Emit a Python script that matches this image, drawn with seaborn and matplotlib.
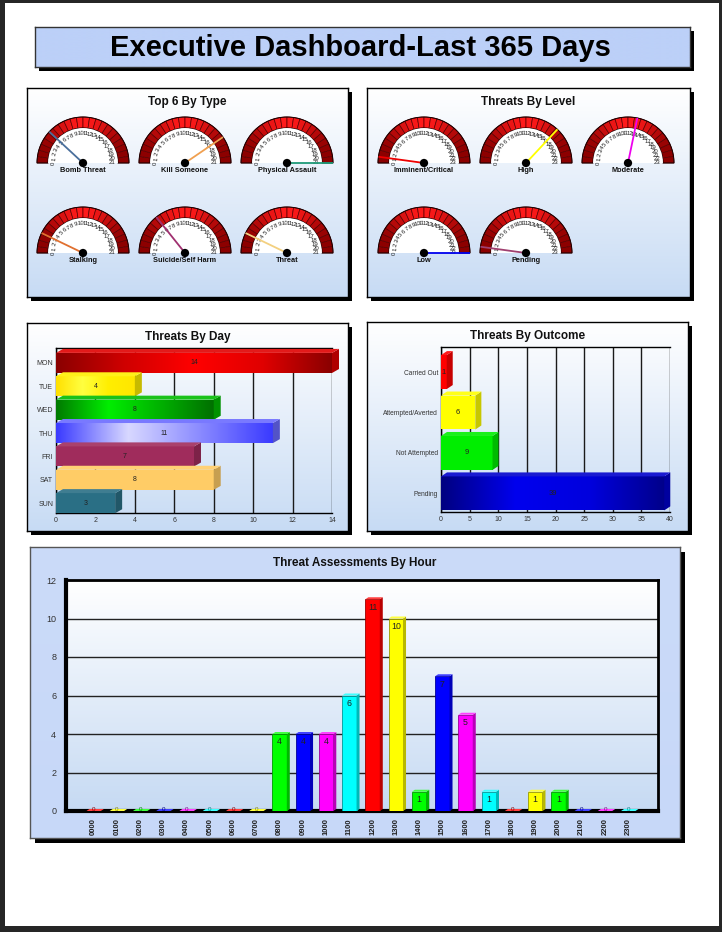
import numpy as np
import pandas as pd
import matplotlib
matplotlib.use("Agg")
import matplotlib.pyplot as plt
import matplotlib.colors as mcolors
from matplotlib.patches import Rectangle, Wedge, Circle, Polygon
import seaborn as sns

# ---------------- data ----------------
type_labels = ["Bomb Threat", "Kill Someone", "Physical Assault",
               "Stalking", "Suicide/Self Harm", "Threat"]
type_values = [5, 17, 21, 3, 6, 3]
type_max = 21

level_labels = ["Imminent/Critical", "High", "Moderate", "Low", "Pending"]
level_values = [1, 17, 13, 23, 1]
level_max = 23

days = ["MON", "TUE", "WED", "THU", "FRI", "SAT", "SUN"]
day_values = [14, 4, 8, 11, 7, 8, 3]

outcomes = ["Carried Out", "Attempted/Averted", "Not Attempted", "Pending"]
outcome_values = [1, 6, 9, 39]

hours = ["0000", "0100", "0200", "0300", "0400", "0500", "0600", "0700",
         "0800", "0900", "1000", "1100", "1200", "1300", "1400", "1500",
         "1600", "1700", "1800", "1900", "2000", "2100", "2200", "2300"]
hour_values = [0, 0, 0, 0, 0, 0, 0, 0, 4, 4, 4, 6, 11, 10, 1, 7, 5, 1, 0, 1, 1, 0, 0, 0]

# ---------------- styles ----------------
type_needles = ["#4a6f9c", "#f0a050", "#1f9a78", "#e07030", "#a03070", "#f3d080"]
level_needles = ["#ee0000", "#ffff00", "#ee00ee", "#0000ee", "#a04070"]
day_colors = ["#e00000", "#ffee00", "#00bb00", "#6a6aff", "#a02c5c", "#ffcc66", "#2a6f85"]
day_gradients = {0: ["#8a0000", "#d00000", "#ff0000", "#e00000", "#8a0000"],
                 1: ["#ffe000", "#ffff40", "#ffee00", "#ffe600"],
                 2: ["#007a00", "#00ee00", "#00b000", "#007000"],
                 3: ["#3a3aff", "#d8d8ff", "#8a8aff", "#3a3aff"]}
outcome_colors = ["#ff0000", "#ffff00", "#00ee00", "#0000cc"]
outcome_gradients = {3: ["#000080", "#0000ee", "#0000dd", "#00008a"]}
hour_colors = ["#ff0000", "#ffff00", "#00ff00", "#0000ff", "#ff00ff", "#00ffff"] * 4

sns.set_theme(style="white")
plt.rcParams["font.family"] = ["Liberation Sans", "DejaVu Sans"]

W, H = 722, 932
fig = plt.figure(figsize=(W / 100, H / 100), dpi=100)
fig.patch.set_facecolor("#262626")


def box(x0, y0, x1, y1):
    return [x0 / W, 1 - y1 / H, (x1 - x0) / W, (y1 - y0) / H]


def frect(x0, y0, x1, y1, **kw):
    fig.add_artist(Rectangle((x0 / W, 1 - y1 / H), (x1 - x0) / W, (y1 - y0) / H,
                             transform=fig.transFigure, **kw))


def ftext(x, y, s, **kw):
    fig.text(x / W, 1 - y / H, s, **kw)


def mix(c0, c1, t):
    a = np.array(mcolors.to_rgb(c0)); b = np.array(mcolors.to_rgb(c1))
    return tuple(a * (1 - t) + b * t)


def darken(c, f):
    return tuple(np.array(mcolors.to_rgb(c)) * f)


def gradient_axes(rect, top, bottom, edge=None, zorder=-4, lw=1.0):
    ax = fig.add_axes(box(*rect), zorder=zorder)
    t = np.linspace(0, 1, 256)[:, None, None]
    c0 = np.array(mcolors.to_rgb(top)); c1 = np.array(mcolors.to_rgb(bottom))
    img = c0 * (1 - t) + c1 * t
    ax.imshow(img, aspect="auto", extent=[0, 1, 0, 1], interpolation="bilinear")
    ax.set_xlim(0, 1); ax.set_ylim(0, 1)
    ax.set_xticks([]); ax.set_yticks([])
    for s in ax.spines.values():
        if edge is None:
            s.set_visible(False)
        else:
            s.set_color(edge); s.set_linewidth(lw)
    return ax


def panel(x0, y0, x1, y1, top, bottom, edge="black", shadow=4):
    frect(x0 + shadow, y0 + shadow, x1 + shadow, y1 + shadow,
          facecolor="black", edgecolor="none", zorder=-5)
    return gradient_axes((x0, y0, x1, y1), top, bottom, edge=edge, zorder=-4)


def add_depth(ax, patch, dxp, dyp, side, topc, z=3.2):
    x0, y0 = patch.get_x(), patch.get_y()
    w, h = patch.get_width(), patch.get_height()
    T = ax.transData
    pts = T.transform([(x0, y0), (x0 + w, y0), (x0 + w, y0 + h), (x0, y0 + h)])
    L, R = pts[:, 0].min(), pts[:, 0].max()
    B, Tp = pts[:, 1].min(), pts[:, 1].max()
    inv = T.inverted()
    right = inv.transform([(R, B), (R + dxp, B + dyp), (R + dxp, Tp + dyp), (R, Tp)])
    top = inv.transform([(L, Tp), (L + dxp, Tp + dyp), (R + dxp, Tp + dyp), (R, Tp)])
    ax.add_patch(Polygon(right, closed=True, facecolor=side, edgecolor="none", zorder=z, clip_on=False))
    ax.add_patch(Polygon(top, closed=True, facecolor=topc, edgecolor="none", zorder=z, clip_on=False))


def grad_bar(ax, patch, colors):
    x0, y0 = patch.get_x(), patch.get_y()
    w, h = patch.get_width(), patch.get_height()
    xl, yl = ax.get_xlim(), ax.get_ylim()
    cmap = mcolors.LinearSegmentedColormap.from_list("g", colors)
    im = ax.imshow(np.linspace(0, 1, 256)[None, :], cmap=cmap, aspect="auto",
                   extent=[x0, x0 + w, y0 + h, y0], zorder=patch.get_zorder() + 0.1,
                   interpolation="bilinear")
    im.set_clip_path(patch)
    ax.set_xlim(xl); ax.set_ylim(yl)


# ---------------- page & frames ----------------
frect(5, 3, 719, 926, facecolor="white", edgecolor="none", zorder=-6)

panel(35, 27, 690, 67, "#bcd0f8", "#bcd0f8", edge="#333333", shadow=4)
ftext(360, 48, "Executive Dashboard-Last 365 Days", fontsize=21,
      fontweight="bold", ha="center", va="center", color="black")

panel(27, 88, 348, 297, "#ffffff", "#c7dbf4", shadow=4)
panel(367, 88, 690, 297, "#ffffff", "#c7dbf4", shadow=4)
panel(27, 323, 348, 531, "#ffffff", "#c7dbf4", shadow=4)
panel(367, 322, 688, 531, "#ffffff", "#c7dbf4", shadow=4)
panel(30, 547, 680, 838, "#cbdbf9", "#c7d8f8", edge="#555555", shadow=5)

title_kw = dict(fontsize=8.5, fontweight="bold", ha="center", va="center", color="#111111")
ftext(187.5, 102, "Top 6 By Type", **title_kw)
ftext(528.5, 102, "Threats By Level", **title_kw)
ftext(187.5, 337, "Threats By Day", **title_kw)
ftext(527.5, 336, "Threats By Outcome", **title_kw)
ftext(355, 563, "Threat Assessments By Hour", **title_kw)


# ---------------- gauges ----------------
def gauge(cx, cy, value, vmax, label, color, R=46):
    ax = fig.add_axes(box(cx - 52, cy - 50, cx + 52, cy + 13))
    ax.set_xlim(-52 / R, 52 / R); ax.set_ylim(-13 / R, 50 / R)
    ax.axis("off")
    nseg = 22
    edges = np.linspace(180, 0, nseg + 1)
    for i in range(nseg):
        a1, a0 = edges[i], edges[i + 1]
        t = np.sin(np.radians((a0 + a1) / 2))
        fc = mix("#8c0000", "#ff1a1a", t ** 3)
        ax.add_patch(Wedge((0, 0), 1.0, a0, a1, width=0.24, facecolor=fc,
                           edgecolor="#5a0000", lw=0.5))
    ax.add_patch(Wedge((0, 0), 1.0, 0, 180, width=0.24, facecolor="none",
                       edgecolor="#1a0000", lw=0.7))
    ax.add_patch(Wedge((0, 0), 0.76, 0, 180, facecolor="white", edgecolor="none"))
    for k in range(vmax + 1):
        a = np.pi * (1 - k / vmax)
        rot = np.degrees(a) - 90 if a > np.pi / 2 else 0
        ax.text(0.64 * np.cos(a), 0.64 * np.sin(a), str(k), fontsize=4.3,
                ha="center", va="center", rotation=rot, color="#222222")
    a = np.pi * (1 - value / vmax)
    ax.plot([0, np.cos(a)], [0, np.sin(a)], color=color, lw=1.3,
            solid_capstyle="butt", zorder=4)
    ax.add_patch(Circle((0, 0), 0.09, facecolor="black", edgecolor="none", zorder=5))
    ax.text(0, -0.16, label, fontsize=5.3, fontweight="bold", ha="center",
            va="center", color="#111111")


type_centers = [(83, 163), (185, 163), (287, 163), (83, 253), (185, 253), (287, 253)]
for (cx, cy), v, lab, col in zip(type_centers, type_values, type_labels, type_needles):
    gauge(cx, cy, v, type_max, lab, col)

level_centers = [(424, 163), (526, 163), (628, 163), (424, 253), (526, 253)]
for (cx, cy), v, lab, col in zip(level_centers, level_values, level_labels, level_needles):
    gauge(cx, cy, v, level_max, lab, col)


# ---------------- horizontal bar charts ----------------
def hbar_chart(rect, cats, vals, colors, grads, xmax, step, ylim, width, depth, fs_y, fs_lab):
    ax = fig.add_axes(box(*rect))
    ax.patch.set_alpha(0)
    sns.barplot(x=vals, y=cats, hue=cats, palette=colors, saturation=1, legend=False,
                width=width, orient="h", ax=ax, zorder=3, linewidth=0)
    ax.set_xlim(0, xmax); ax.set_ylim(*ylim)
    ax.set_xticks(np.arange(0, xmax + 1, step))
    ax.xaxis.grid(True, color="#1a1a1a", lw=1)
    ax.yaxis.grid(False)
    ax.set_axisbelow(True)
    for k in ["left", "bottom", "top"]:
        ax.spines[k].set_color("black"); ax.spines[k].set_linewidth(1)
    ax.spines["right"].set_visible(False)
    ax.tick_params(axis="x", length=0, labelsize=5, colors="#333333", pad=3)
    ax.tick_params(axis="y", length=0, labelsize=fs_y, colors="#333333", pad=2)
    ax.set_xlabel(""); ax.set_ylabel("")
    bars = [p for c in ax.containers for p in c]
    for i, p in enumerate(bars):
        base = colors[i]
        if i in grads:
            grad_bar(ax, p, grads[i])
        add_depth(ax, p, depth[0], depth[1], darken(base, 0.78), mix(base, "white", 0.1))
    for c in ax.containers:
        ax.bar_label(c, label_type="center", fontsize=fs_lab, color="#222222", zorder=6)
    return ax


hbar_chart((56, 348, 332, 513), days, day_values, day_colors, day_gradients,
           14, 2, (6.42, -0.64), 0.86, (7, 4), 5, 5)
hbar_chart((441, 347, 670, 512), outcomes, outcome_values, outcome_colors, outcome_gradients,
           40, 5, (3.46, -0.62), 0.84, (6, 4), 4.8, 5.5)

# ---------------- hourly chart ----------------
gradient_axes((66, 580, 658, 811), "#ffffff", "#c6daf3", edge=None, zorder=-2)
axh = fig.add_axes(box(66, 580, 658, 811))
axh.patch.set_alpha(0)
sns.barplot(x=hours, y=hour_values, hue=hours, palette=hour_colors, saturation=1,
            legend=False, width=0.62, ax=axh, zorder=3, linewidth=0)
axh.set_xlim(-1.19, 24.28); axh.set_ylim(0, 12)
axh.set_yticks(np.arange(0, 13, 2))
axh.yaxis.grid(True, color="#222222", lw=1)
axh.xaxis.grid(False)
axh.set_axisbelow(True)
for k, lw in [("left", 3), ("bottom", 3), ("top", 2), ("right", 2)]:
    axh.spines[k].set_color("black"); axh.spines[k].set_linewidth(lw)
axh.tick_params(axis="y", length=0, labelsize=6.5, colors="#333333", pad=7)
axh.tick_params(axis="x", length=0, labelsize=5.5, colors="#222222", pad=5, labelrotation=90)
for lbl in axh.get_xticklabels():
    lbl.set_fontweight("bold")
axh.set_xlabel(""); axh.set_ylabel("")
hbars = [p for c in axh.containers for p in c]
for i, (p, v) in enumerate(zip(hbars, hour_values)):
    base = hour_colors[i]
    p.set_edgecolor(darken(base, 0.6)); p.set_linewidth(0.6)
    add_depth(axh, p, 3, 2, darken(base, 0.72), mix(base, "white", 0.25))
    xc = p.get_x() + p.get_width() / 2
    if v > 0:
        axh.annotate(str(v), (xc, v), xytext=(0, -2.5), textcoords="offset points",
                     ha="center", va="top", fontsize=6.3, color="#222222", zorder=6)
    else:
        axh.annotate("0", (xc, 0), xytext=(0, 1), textcoords="offset points",
                     ha="center", va="center", fontsize=4.5, color=darken(base, 0.55), zorder=6)

fig.savefig("out.png", dpi=100)
